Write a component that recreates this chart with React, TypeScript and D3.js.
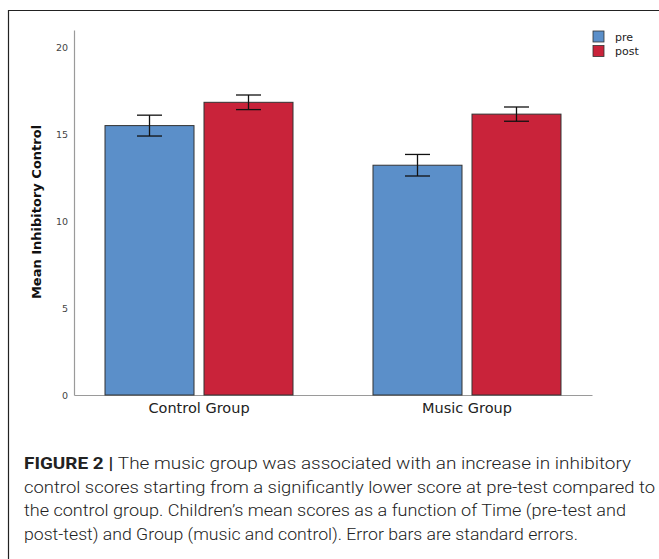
import { useEffect, useRef } from 'react'
import * as d3 from 'd3'

// values (means and standard errors)
const groups = ['Control Group', 'Music Group']
const times = ['pre', 'post']
const preMeans = [15.5, 13.22]
const postMeans = [16.84, 16.16]
const preErrors = [0.6, 0.62]
const postErrors = [0.42, 0.41]
const yTicks = [0, 5, 10, 15, 20]
const colors = ['#5b8fc9', '#c9233a']

const captionLines = [
  'The music group was associated with an increase in inhibitory',
  'control scores starting from a significantly lower score at pre-test compared to',
  'the control group. Children\u2019s mean scores as a function of Time (pre-test and',
  'post-test) and Group (music and control). Error bars are standard errors.',
]
const captionEnds = [631, 655, 626, 578]

const width = 659
const height = 559
const plot = { left: 74, right: 592, top: 30, bottom: 395 }
const chartFont = '"DejaVu Sans", sans-serif'

function App() {
  const ref = useRef<SVGSVGElement>(null)

  useEffect(() => {
    document.body.style.margin = '0'
    drawChart()
  }, [])

  const drawChart = () => {
    const svg = d3.select(ref.current)
    svg.selectAll('*').remove()

    const rows = groups.map((g, i) => ({
      group: g,
      values: [
        { time: times[0], mean: preMeans[i], se: preErrors[i] },
        { time: times[1], mean: postMeans[i], se: postErrors[i] },
      ],
    }))

    const x0 = d3
      .scaleBand()
      .domain(groups)
      .range([plot.left, plot.right])
      .paddingInner(0.2985)
      .paddingOuter(0.1157)
    const x1 = d3
      .scaleBand()
      .domain(times)
      .range([0, x0.bandwidth()])
      .paddingInner(0.101)
    const y = d3.scaleLinear().domain([0, 21]).range([plot.bottom, plot.top])
    const color = d3.scaleOrdinal<string>().domain(times).range(colors)

    // frame
    svg
      .append('path')
      .attr('d', `M8.5,${height}V10.5H${width}`)
      .attr('fill', 'none')
      .attr('stroke', '#222')
      .attr('stroke-width', 1.2)

    // y axis
    const yAxis = svg
      .append('g')
      .attr('transform', `translate(${plot.left},0)`)
      .call(d3.axisLeft(y).tickValues(yTicks).tickSize(0).tickPadding(6))
    yAxis.select('.domain').attr('stroke', '#9a9a9a').attr('stroke-width', 1.2)
    yAxis
      .selectAll('text')
      .attr('font-family', chartFont)
      .attr('font-size', 9.5)
      .attr('fill', '#444')

    // x axis
    const xAxis = svg
      .append('g')
      .attr('transform', `translate(0,${plot.bottom})`)
      .call(d3.axisBottom(x0).tickSize(0).tickPadding(8).tickSizeOuter(0))
    xAxis.select('.domain').attr('stroke', '#9a9a9a').attr('stroke-width', 1.2)
    xAxis
      .selectAll('text')
      .attr('font-family', chartFont)
      .attr('font-size', 14.5)
      .attr('fill', '#222')

    svg
      .append('text')
      .attr('transform', `translate(41,212) rotate(-90)`)
      .attr('text-anchor', 'middle')
      .attr('font-family', chartFont)
      .attr('font-weight', 'bold')
      .attr('font-size', 13)
      .attr('fill', '#111')
      .text('Mean Inhibitory Control')

    // bars
    const groupG = svg
      .append('g')
      .selectAll('g')
      .data(rows)
      .join('g')
      .attr('transform', (d) => `translate(${x0(d.group)},0)`)

    groupG
      .selectAll('rect')
      .data((d) => d.values)
      .join('rect')
      .attr('x', (d) => x1(d.time)!)
      .attr('y', (d) => y(d.mean))
      .attr('width', x1.bandwidth())
      .attr('height', (d) => y(0) - y(d.mean))
      .attr('fill', (d) => color(d.time))
      .attr('stroke', '#333')
      .attr('stroke-width', 1)

    // error bars
    const capHalf = 12.5
    const err = groupG
      .selectAll('g.err')
      .data((d) => d.values)
      .join('g')
      .attr('class', 'err')
      .attr('transform', (d) => `translate(${x1(d.time)! + x1.bandwidth() / 2},0)`)
      .attr('stroke', '#111')
      .attr('stroke-width', 1.3)
    err
      .append('line')
      .attr('y1', (d) => y(d.mean + d.se))
      .attr('y2', (d) => y(d.mean - d.se))
    err
      .append('line')
      .attr('x1', -capHalf)
      .attr('x2', capHalf)
      .attr('y1', (d) => y(d.mean + d.se))
      .attr('y2', (d) => y(d.mean + d.se))
    err
      .append('line')
      .attr('x1', -capHalf)
      .attr('x2', capHalf)
      .attr('y1', (d) => y(d.mean - d.se))
      .attr('y2', (d) => y(d.mean - d.se))

    // legend
    const legend = svg
      .append('g')
      .selectAll('g')
      .data(times)
      .join('g')
      .attr('transform', (_d, i) => `translate(593,${31 + i * 14.5})`)
    legend
      .append('rect')
      .attr('width', 11)
      .attr('height', 11)
      .attr('fill', (d) => color(d))
      .attr('stroke', '#333')
      .attr('stroke-width', 0.8)
    legend
      .append('text')
      .attr('x', 22)
      .attr('y', 9.5)
      .attr('font-family', chartFont)
      .attr('font-size', 11)
      .attr('fill', '#222')
      .text((d) => d)

    // caption
    const caption = svg
      .append('g')
      .attr('font-family', 'Roboto, "Liberation Sans", sans-serif')
      .attr('font-size', 16)
      .attr('font-weight', 300)
      .attr('fill', '#222')
    captionLines.forEach((line, i) => {
      const t = caption
        .append('text')
        .attr('x', 24)
        .attr('y', 469 + i * 23.6)
        .attr('textLength', captionEnds[i] - 24)
        .attr('lengthAdjust', 'spacingAndGlyphs')
      if (i === 0) {
        t.append('tspan').attr('font-weight', 'bold').text('FIGURE 2 | ')
      }
      t.append('tspan').text(line)
    })
  }

  return <svg ref={ref} width={width} height={height} style={{ display: 'block' }} />
}

export default App
